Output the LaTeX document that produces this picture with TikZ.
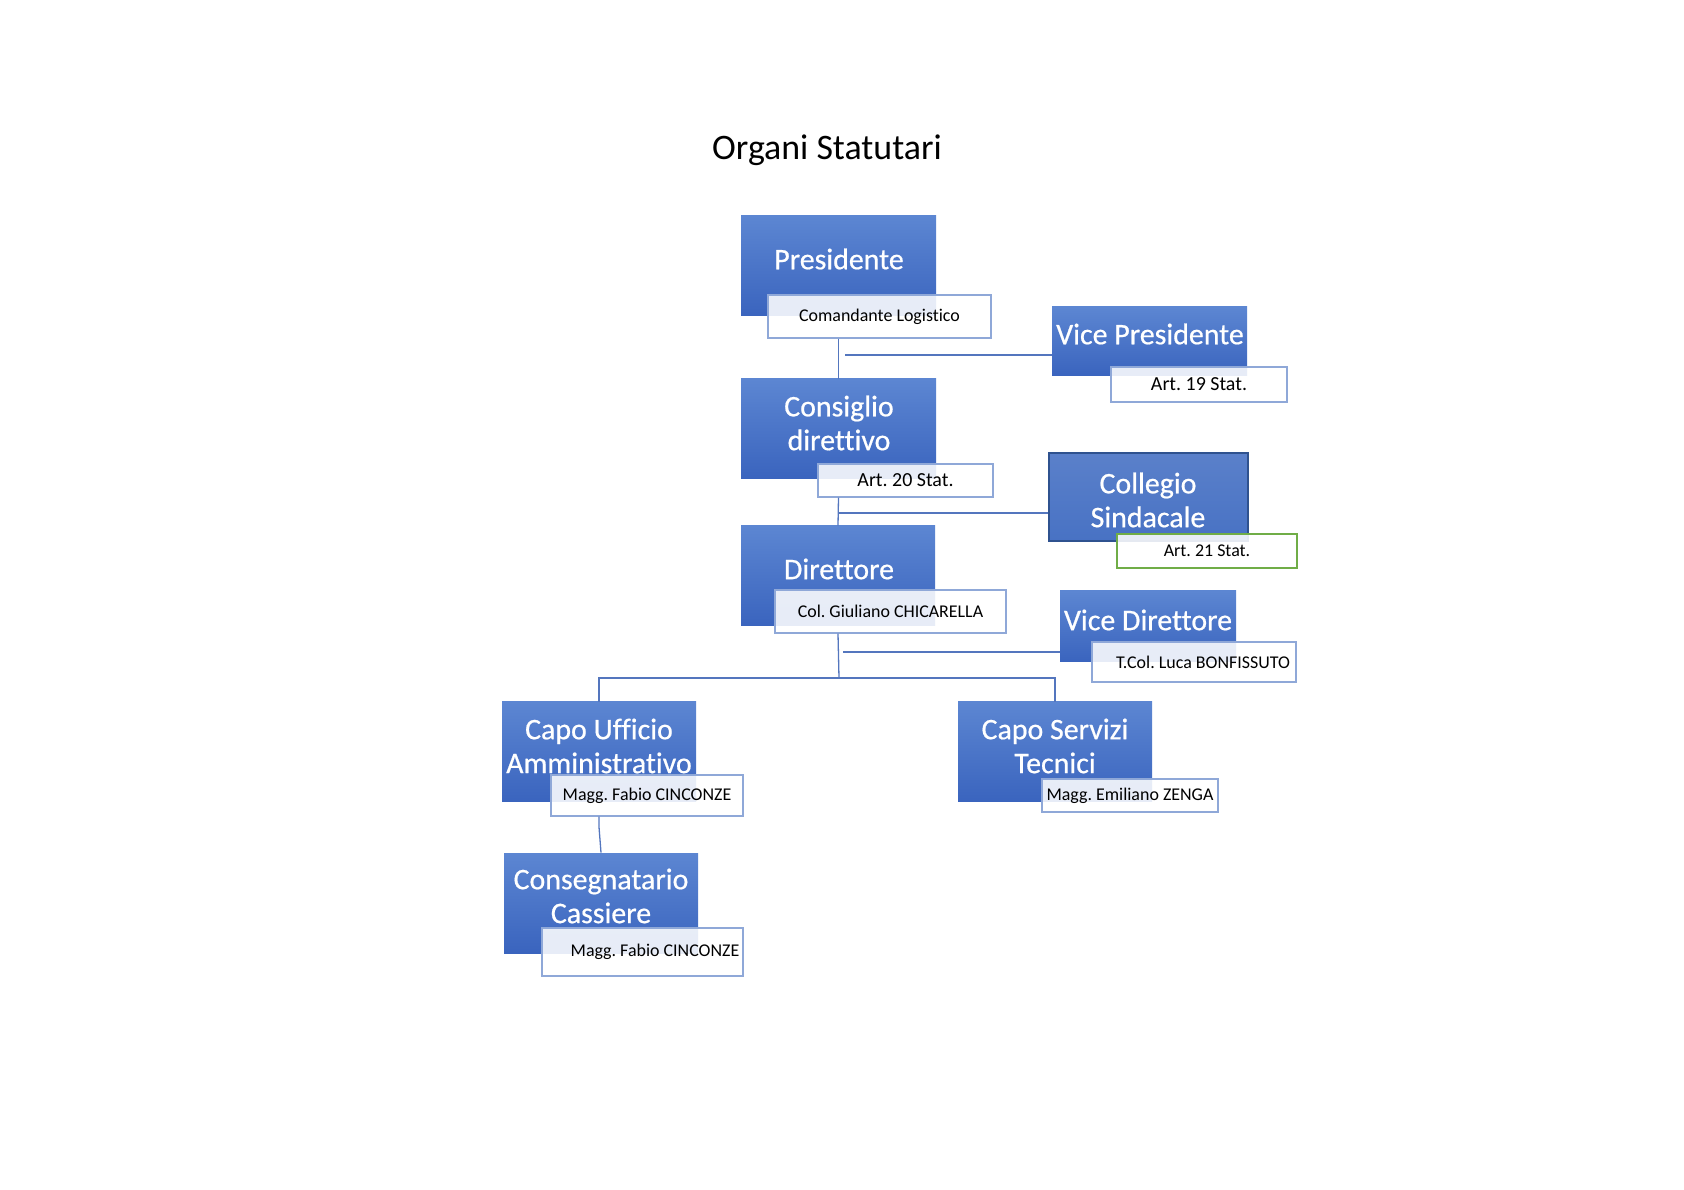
\documentclass[tikz,border=0pt]{standalone}
\usepackage{fontspec}
\setmainfont{Carlito}[Ligatures=NoCommon]
\newfontfamily\boxfont{Carlito}[FakeBold=0.6,Ligatures=NoCommon]
\frenchspacing
\definecolor{boxtop}{RGB}{92,134,210}
\definecolor{boxbot}{RGB}{58,100,190}
\definecolor{collfill}{RGB}{72,114,196}
\definecolor{collline}{RGB}{47,82,143}
\definecolor{infoline}{RGB}{143,168,216}
\definecolor{greenline}{RGB}{112,173,71}
\definecolor{linkcol}{RGB}{84,118,190}
\begin{document}
\begin{tikzpicture}[x=0.5bp,y=-0.5bp,
  orgbox/.style={rectangle,inner sep=0pt,top color=boxtop,bottom color=boxbot},
  orgtxt/.style={text=white,align=center,font=\boxfont\fontsize{15}{17}\selectfont},
  infobox/.style={rectangle,inner sep=0pt,draw=infoline,line width=0.6bp,fill=white,fill opacity=0.88,text opacity=1,font=\fontsize{9}{11}\selectfont},
  link/.style={draw=linkcol,line width=0.65bp}]
\useasboundingbox (0,0) rectangle (1684,1190);

\node[font=\fontsize{18}{20}\selectfont] (title) at (827,150) {Organi Statutari};

\foreach \n/\x/\y/\w/\h in {pres/838.5/266/195/100,cons/838.5/429/195/100,dir/838/576/194/100,
  vpres/1149.5/341.5/195/69,vdir/1148/626.5/176/71,
  uff/599/752/194/100,serv/1055/752/194/100,cass/601/903/194/100}
{
    \node[orgbox,minimum width=\w*0.5bp,minimum height=\h*0.5bp] (\n) at (\x,\y) {};
}
\node[orgbox,top color=collfill!90!white,bottom color=collfill,draw=collline,line width=0.8bp,
  minimum width=99.5bp,minimum height=44bp] (coll) at (1148.5,497) {};

\coordinate (j1) at (845,355);
\coordinate (j2) at (839,513);
\coordinate (j3) at (839,678);
\coordinate (j4) at (843,652);
\coordinate (j5) at (599,827);

\node[infobox,minimum width=111.5bp,minimum height=21.5bp] (comL) at (879.5,316.5) {Comandante Logistico};
\node[infobox,minimum width=88bp,minimum height=17.5bp,font=\fontsize{10}{12}\selectfont] (art19) at (1199,384.5) {Art. 19 Stat.};
\node[infobox,minimum width=87.5bp,minimum height=16.5bp,font=\fontsize{10}{12}\selectfont] (art20) at (905.5,480.5) {Art. 20 Stat.};
\node[infobox,draw=greenline,line width=0.8bp,minimum width=90bp,minimum height=17bp] (art21) at (1207,551) {Art. 21 Stat.};
\node[infobox,minimum width=115.5bp,minimum height=21.5bp] (colL) at (890.5,611.5) {Col. Giuliano CHICARELLA};
\node[infobox,minimum width=102bp,minimum height=20bp] (tcolL) at (1194,662) {\hspace*{9bp}T.Col. Luca BONFISSUTO};
\node[infobox,minimum width=96bp,minimum height=20.5bp] (fabL) at (647,795.5) {Magg. Fabio CINCONZE};
\node[infobox,minimum width=88bp,minimum height=16.5bp] (zenL) at (1130,795.5) {Magg. Emiliano ZENGA};
\node[infobox,minimum width=100.5bp,minimum height=24bp] (fab2L) at (642.5,952) {\hspace*{12.5bp}Magg. Fabio CINCONZE};

\draw[link] (pres.center |- comL.south) -- (cons.north);
\draw[link] (j1) -- (j1 -| vpres.west);
\draw[link] (cons.center |- art20.south) -- (dir.north);
\draw[link] (j2) -- (j2 -| coll.west);
\draw[link] (dir.center |- colL.south) -- (j3);
\draw[link] (uff.north) |- (j3) -| (serv.north);
\draw[link] (j4) -- (j4 -| vdir.west);
\draw[link] (uff.center |- fabL.south) -- (j5) -- (cass.north);

\node[orgtxt] (presT) at (839,259) {Presidente};
\node[orgtxt] (consT) at (839,423) {Consiglio\\direttivo};
\node[orgtxt] (dirT) at (839,569) {Direttore};
\node[orgtxt] (vpresT) at (1150,334) {Vice Presidente};
\node[orgtxt] (collT) at (1148,500) {Collegio\\Sindacale};
\node[orgtxt] (vdirT) at (1148,620) {Vice Direttore};
\node[orgtxt] (uffT) at (599,746) {Capo Ufficio\\Amministrativo};
\node[orgtxt] (servT) at (1055,746) {Capo Servizi\\Tecnici};
\node[orgtxt] (cassT) at (601,896) {Consegnatario\\Cassiere};

\end{tikzpicture}
\end{document}
